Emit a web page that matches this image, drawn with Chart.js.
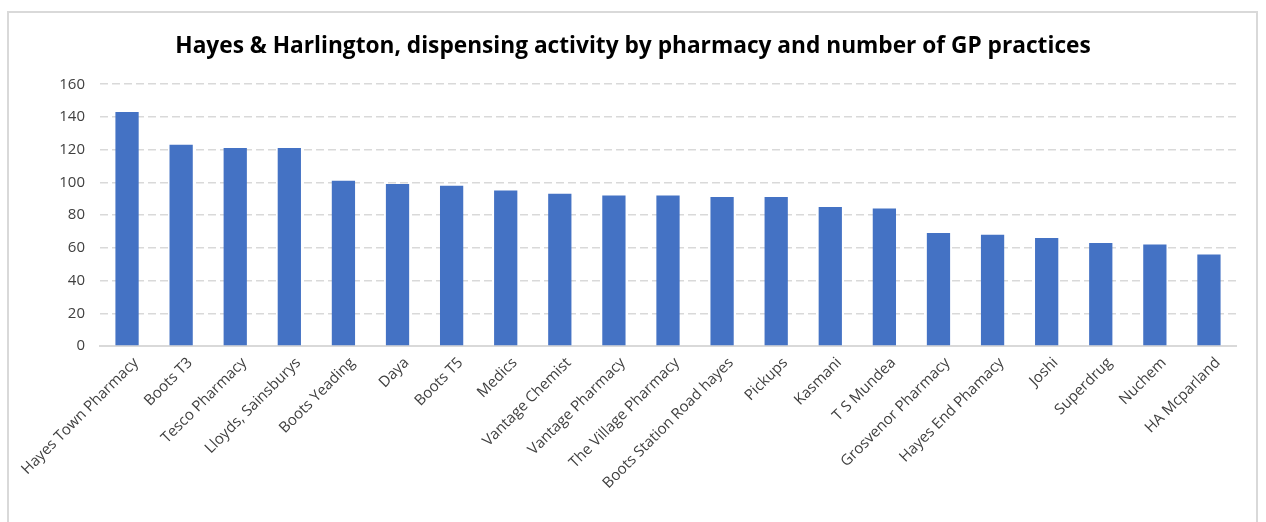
<!DOCTYPE html>
<html>
<head>
<meta charset="utf-8">
<script src="https://cdn.jsdelivr.net/npm/chart.js@4.4.1/dist/chart.umd.min.js"></script>
<style>
  html, body { margin: 0; padding: 0; background: #fff; overflow: hidden; }
  #frame {
    position: absolute; left: 7px; top: 11px; width: 1251px; height: 530px;
    border: 2px solid #d9d9d9; box-sizing: border-box;
  }
  #wrap { position: absolute; left: 0; top: 0; width: 1266px; height: 522px; }
</style>
</head>
<body>
<div id="frame"></div>
<div id="wrap"><canvas id="BarChart"></canvas></div>
<script>
// Pharmacies (categories)
const pharmacies = [
  'Hayes Town Pharmacy', 'Boots T3', 'Tesco Pharmacy', 'Lloyds, Sainsburys',
  'Boots Yeading', 'Daya', 'Boots T5', 'Medics', 'Vantage Chemist',
  'Vantage Pharmacy', 'The Village Pharmacy', 'Boots Station Road hayes',
  'Pickups', 'Kasmani', 'T S Mundea', 'Grosvenor Pharmacy',
  'Hayes End Phamacy', 'Joshi', 'Superdrug', 'Nuchem', 'HA Mcparland'
];
// Dispensing activity values
const activity = [143, 123, 121, 121, 101, 99, 98, 95, 93, 92, 92, 91, 91, 85, 84, 69, 68, 66, 63, 62, 56];
// Y axis ticks
const yMin = 0;
const yMax = 160;
const yStep = 20;

const ctx_bar = document.getElementById('BarChart').getContext('2d');

const chart = new Chart(ctx_bar, {
  type: 'bar',
  data: {
    labels: pharmacies,
    datasets: [{
      data: activity,
      backgroundColor: '#4472C4',
      borderWidth: 0,
      barPercentage: 0.43,
      categoryPercentage: 1.0
    }]
  },
  options: {
    responsive: true,
    maintainAspectRatio: false,
    animation: false,
    // equal side padding keeps the title centred on the canvas
    layout: { padding: { left: 30, right: 30, top: 0, bottom: 0 } },
    plugins: {
      legend: { display: false },
      tooltip: { enabled: false },
      title: {
        display: true,
        text: 'Hayes & Harlington, dispensing activity by pharmacy and number of GP practices',
        color: '#000000',
        font: { family: 'Open Sans', size: 22.7, weight: 'bold' },
        padding: { top: 33, bottom: 24 }
      }
    },
    scales: {
      x: {
        grid: { display: false },
        border: { display: true, color: '#d9d9d9', width: 2 },
        ticks: {
          color: '#404040',
          font: { family: 'Open Sans', size: 15 },
          maxRotation: 45,
          minRotation: 45,
          autoSkip: false,
          labelOffset: 9,
          padding: 0
        },
        afterFit: (scale) => { scale.height = 176; }
      },
      y: {
        min: yMin,
        max: yMax,
        border: { display: false, dash: [8, 4] },
        grid: {
          color: (c) => c.tick && c.tick.value === 0 ? 'rgba(0,0,0,0)' : '#d9d9d9',
          lineWidth: 1.5,
          drawTicks: false
        },
        ticks: {
          stepSize: yStep,
          color: '#404040',
          font: { family: 'Open Sans', size: 15 },
          padding: 15
        },
        afterFit: (scale) => { scale.width = 70; }
      }
    }
  }
});
</script>
</body>
</html>
